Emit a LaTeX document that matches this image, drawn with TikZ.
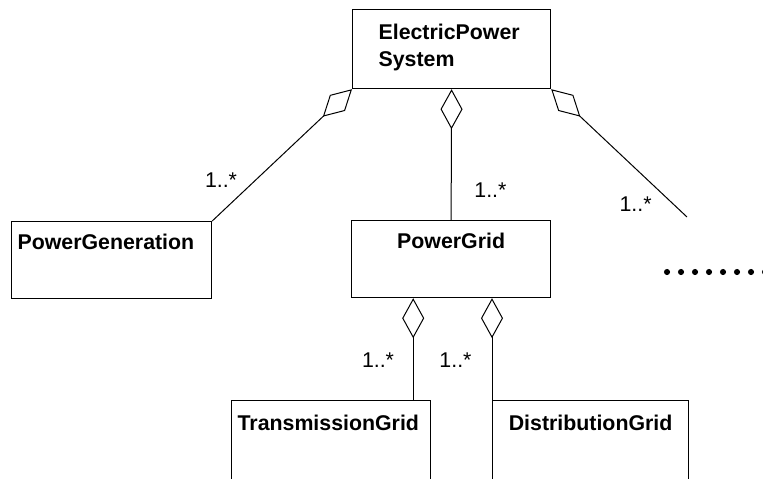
\documentclass[tikz,border=0pt]{standalone}
\usepackage{fontspec}
\setmainfont{Liberation Sans}
\usetikzlibrary{arrows.meta}

\begin{document}
\begin{tikzpicture}[
  x=0.75pt, y=-0.75pt,
  cls/.style={draw,line width=.9pt,anchor=north west,inner ysep=0pt,inner xsep=4.5pt,
    text width=141pt,align=left,text height=21pt,text depth=36.75pt,
    font=\bfseries\fontsize{16}{20}\selectfont},
  mult/.style={inner sep=0pt,font=\fontsize{16}{19}\selectfont},
  agg/.style={{Diamond[open,length=30pt,width=16.5pt]}-,line width=.75pt}
]
\path[use as bounding box,clip] (0,0) rectangle (763,478);
\node[cls,inner xsep=19.5pt,text width=109.5pt,text height=22.5pt] (eps) at (352,9) {ElectricPower\\System};
\node[cls] (pgen) at (11,221) {PowerGeneration};
\node[cls,align=center,text width=140.25pt] (pgrid) at (351,220) {PowerGrid};
\node[cls,text width=140.25pt,text height=22.5pt,text depth=45pt] (tgrid) at (231,400) {TransmissionGrid};
\node[cls,align=center,text width=138pt,text height=22.5pt,text depth=45pt] (dgrid) at (492,400) {DistributionGrid};
\coordinate (more) at (687,217);
\path (tgrid.north east) ++(-18,0) coordinate (tin);
\draw[agg] (eps.south west) -- node[mult,pos=.69,anchor=east,xshift=-13.5pt]{1..*} (pgen.north east);
\draw[agg] (eps.south) -- node[mult,pos=.77,anchor=west,xshift=17pt]{1..*} (pgrid.north);
\draw[agg] (eps.south east) -- node[mult,pos=.9,anchor=east,xshift=-16pt]{1..*} (more);
\draw[agg] (tin |- pgrid.south) -- node[mult,pos=.61,anchor=east,xshift=-14pt]{1..*} (tin);
\draw[agg] (dgrid.north west |- pgrid.south) -- node[mult,pos=.61,anchor=east,xshift=-15pt]{1..*} (dgrid.north west);
\foreach \i in {0,...,7} \fill (667+14*\i,272) circle[radius=2.3pt];
\end{tikzpicture}
\end{document}
